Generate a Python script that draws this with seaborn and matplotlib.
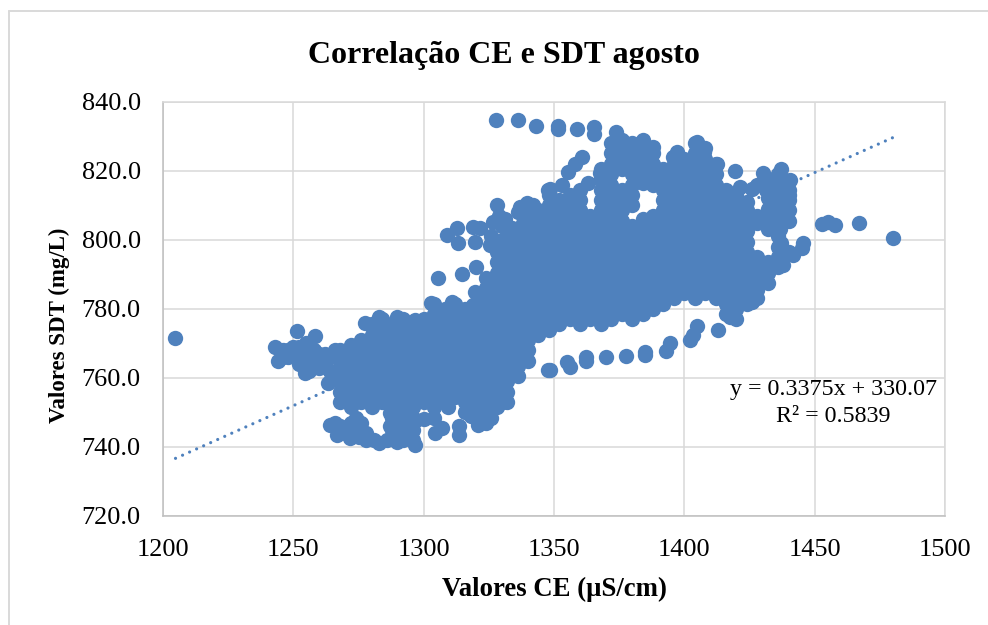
import matplotlib
matplotlib.use("Agg")
import matplotlib.pyplot as plt
from matplotlib.lines import Line2D
import pandas as pd
import seaborn as sns

# colunas da nuvem principal: cada CE tem a sua lista de SDT
colunas_ce = [1268, 1272, 1276, 1280, 1284, 1288, 1292, 1296, 1300, 1304, 1308, 1312,
              1316, 1320, 1324, 1328, 1332, 1336, 1340, 1344, 1348, 1352, 1356, 1360,
              1364, 1368, 1372, 1376, 1380, 1384, 1388, 1392, 1396, 1400, 1404, 1408,
              1412, 1416, 1420, 1424, 1428, 1432, 1436, 1440]
colunas_sdt = [
    [753, 756, 759, 762, 765, 768],
    [751.5, 754.5, 757.5, 760.5, 763.5, 766.5, 769.5],
    [753, 756, 759, 762, 765, 768, 771],
    [751.5, 754.5, 757.5, 760.5, 763.5, 766.5, 769.5, 772.5, 775.5],
    [753, 756, 759, 762, 765, 768, 771, 774, 777],
    [748.5, 751.5, 754.5, 757.5, 760.5, 763.5, 766.5, 769.5, 772.5, 775.5],
    [750, 753, 756, 759, 762, 765, 768, 771, 774, 777],
    [748.5, 751.5, 754.5, 757.5, 760.5, 763.5, 766.5, 769.5, 772.5, 775.5],
    [753, 756, 759, 762, 765, 768, 771, 774, 777],
    [751.5, 754.5, 757.5, 760.5, 763.5, 766.5, 769.5, 772.5, 775.5, 778.5, 781.5],
    [753, 756, 759, 762, 765, 768, 771, 774, 777, 780],
    [754.5, 757.5, 760.5, 763.5, 766.5, 769.5, 772.5, 775.5, 778.5, 781.5],
    [750, 753, 756, 759, 762, 765, 768, 771, 774, 777, 780],
    [748.5, 751.5, 754.5, 757.5, 760.5, 763.5, 766.5, 769.5, 772.5, 775.5, 778.5, 781.5],
    [747, 750, 753, 756, 759, 762, 765, 768, 771, 774, 777, 780, 783, 786, 789],
    [751.5, 754.5, 757.5, 760.5, 763.5, 766.5, 769.5, 772.5, 775.5, 778.5, 781.5, 784.5, 787.5, 790.5, 793.5, 796.5],
    [753, 756, 759, 762, 765, 768, 771, 774, 777, 780, 783, 786, 789, 792, 795, 798, 801],
    [760.5, 763.5, 766.5, 769.5, 772.5, 775.5, 778.5, 781.5, 784.5, 787.5, 790.5, 793.5, 796.5, 799.5, 802.5],
    [765, 768, 771, 774, 777, 780, 783, 786, 789, 792, 795, 798, 801, 804],
    [772.5, 775.5, 778.5, 781.5, 784.5, 787.5, 790.5, 793.5, 796.5, 799.5, 802.5, 805.5, 808.5],
    [774, 777, 780, 783, 786, 789, 792, 795, 798, 801, 804, 807, 810, 813],
    [775.5, 778.5, 781.5, 784.5, 787.5, 790.5, 793.5, 796.5, 799.5, 802.5, 805.5, 808.5, 811.5],
    [777, 780, 783, 786, 789, 792, 795, 798, 801, 804, 807, 810, 813],
    [775.5, 778.5, 781.5, 784.5, 787.5, 790.5, 793.5, 796.5, 799.5, 802.5, 805.5, 808.5, 811.5, 814.5],
    [777, 780, 783, 786, 789, 792, 795, 798, 801, 804, 807],
    [775.5, 778.5, 781.5, 784.5, 787.5, 790.5, 793.5, 796.5, 799.5, 802.5, 805.5, 808.5, 811.5, 814.5, 817.5, 820.5],
    [777, 780, 783, 786, 789, 792, 795, 798, 801, 804, 807, 810, 813, 816, 819, 822, 825, 828],
    [778.5, 781.5, 784.5, 787.5, 790.5, 793.5, 796.5, 799.5, 802.5, 805.5, 808.5, 811.5, 814.5, 820.5, 823.5, 826.5, 829],
    [777, 780, 783, 786, 789, 792, 795, 798, 801, 804, 810, 813, 816, 819, 822, 825, 828],
    [778.5, 781.5, 784.5, 787.5, 790.5, 793.5, 796.5, 799.5, 802.5, 817.5, 820.5, 823.5, 826.5, 829],
    [780, 783, 786, 789, 792, 795, 798, 801, 804, 819, 822, 825],
    [781.5, 784.5, 787.5, 790.5, 793.5, 796.5, 799.5, 802.5, 805.5, 808.5, 811.5, 814.5, 817.5, 820.5],
    [783, 786, 789, 792, 795, 798, 801, 804, 807, 810, 813, 816, 819, 822],
    [784.5, 787.5, 790.5, 793.5, 796.5, 799.5, 802.5, 805.5, 808.5, 811.5, 814.5, 817.5, 820.5, 823.5],
    [783, 786, 789, 792, 795, 798, 801, 804, 807, 810, 813, 816, 819, 822, 825, 828],
    [784.5, 787.5, 790.5, 793.5, 796.5, 799.5, 802.5, 805.5, 808.5, 811.5, 814.5, 817.5, 820.5, 823.5, 826.5],
    [783, 786, 789, 792, 795, 798, 801, 804, 807, 810, 813, 816, 819, 822],
    [778.5, 781.5, 784.5, 787.5, 790.5, 793.5, 796.5, 799.5, 802.5, 805.5, 808.5, 811.5, 814.5],
    [777, 780, 783, 786, 789, 792, 795, 798, 801, 804, 807, 810, 813],
    [781.5, 784.5, 787.5, 790.5, 793.5, 796.5, 799.5, 802.5, 805.5, 808.5, 811],
    [783, 786, 789, 792, 795, 805, 816],
    [787.5, 790.5, 793.5, 805.5, 814.5, 817.5],
    [792, 795, 798, 801, 804, 807, 810, 813, 816, 819],
    [796.5, 805.5, 808.5, 811.5, 814.5],
]

# pontos soltos em volta da nuvem
soltos_ce = [1204.5, 1243, 1244, 1246, 1248, 1250, 1251.3, 1252, 1254.5, 1255, 1256,
             1258.3, 1259, 1260, 1262, 1263.4, 1264, 1264, 1266.7, 1271.7, 1274, 1278,
             1281, 1283, 1287, 1289.6, 1289.6, 1293, 1296.7, 1297, 1304.3, 1307, 1304,
             1309.4, 1313.5, 1313.5, 1321, 1326, 1330.5, 1277.5, 1283, 1289.6, 1296.7,
             1303, 1310.7, 1319, 1305.5, 1314.6, 1319.7, 1308.8, 1312.6, 1313, 1319,
             1321.6, 1319.7, 1328, 1331.2, 1326.7, 1337, 1339.5, 1334, 1347.7, 1346.5,
             1342, 1325.4, 1320, 1325.6, 1327.7, 1336.2, 1343, 1351.4, 1351.4, 1358.7,
             1365.4, 1365.4, 1373.7, 1388, 1360.6, 1358, 1355.4, 1348.4, 1353, 1363,
             1367.6, 1397, 1395.6, 1404.7, 1407.5, 1412.4, 1419.5, 1430, 1437, 1440.5,
             1440, 1431.5, 1421.3, 1425.8, 1439, 1436.7, 1437, 1445.5, 1445, 1441.7,
             1438, 1431.5, 1427.7, 1426, 1417.5, 1413, 1348.4, 1354.8, 1356, 1362.3,
             1362.3, 1370, 1377.7, 1385, 1385, 1393, 1394.6, 1402, 1403.5, 1405, 1347.7,
             1453, 1455, 1457.8, 1467, 1480]
soltos_sdt = [771.6, 769, 765, 766, 768, 767, 773.7, 766, 761.4, 770, 762,
              772, 766, 764, 767, 758.5, 746.3, 762, 743.5, 742.6, 748.4, 742,
              742, 741, 749.7, 741.5, 747, 744, 740.5, 747.8, 744, 745.4, 748.4,
              751.7, 743.5, 746, 746.4, 748.4, 753, 775.8, 777.6, 777.7, 776.8,
              781.7, 782, 781, 789, 790, 785, 801.4, 803.4, 799, 803.7,
              803.4, 799.5, 810, 806, 805.2, 809.6, 810.6, 803.5, 814.4, 805.7,
              803, 798.5, 792, 786.4, 834.7, 834.7, 833, 833, 832, 832,
              832.8, 830.5, 831.3, 827, 824, 822, 819.7, 814.7, 816, 816.4,
              819.4, 825.5, 824, 828.4, 825.5, 822, 820, 819.4, 820.5, 817.3,
              813, 814.4, 815.4, 814.7, 805.7, 803, 799, 799, 797.5, 795.6,
              792.7, 788.4, 785.5, 782, 777.7, 774, 762.3, 764.7, 763.3, 766,
              765, 766, 766.3, 766.6, 767.5, 767.9, 770, 771, 772.5, 775, 762.2,
              804.6, 805.3, 804.3, 804.8, 800.5]

# pontos do fundo da nuvem, entre 1265 e 1330
fundo_ce = [1266, 1270, 1274, 1278, 1287, 1288, 1292, 1292, 1296, 1296, 1296, 1300, 1318, 1318, 1322, 1322, 1326,
            1268, 1272, 1276, 1286, 1292, 1275]
fundo_sdt = [747, 744, 744, 744, 746, 745, 745, 748, 742, 745, 748, 748, 749, 752, 747, 751, 751,
             746, 747, 747, 742, 742, 743]

# preenchimento do braco esquerdo
esquerda_ce = [1246, 1248, 1250, 1252, 1254, 1256, 1258, 1260, 1262, 1264, 1266, 1264, 1266, 1260, 1256, 1252]
esquerda_sdt = [768, 766, 769, 769, 767, 766, 768, 767, 764, 766, 768, 762, 760, 763, 764, 764]

# preenchimento da parte alta da nuvem
topo_ce = [1326, 1330, 1330, 1334, 1338, 1338, 1342, 1342, 1329, 1336, 1384, 1388, 1388, 1384, 1428, 1432, 1432, 1432]
topo_sdt = [801, 800, 804, 799, 805, 808, 807, 810, 807, 808, 806, 807, 816, 816.5, 807, 809, 812, 803]

tendencia_ce = [1204.8, 1480]
tendencia_sdt = [736.7, 829.6]

ticks_ce = [1200, 1250, 1300, 1350, 1400, 1450, 1500]
ticks_sdt = [720, 740, 760, 780, 800, 820, 840]

ce = list(soltos_ce) + fundo_ce + esquerda_ce + topo_ce
sdt = list(soltos_sdt) + fundo_sdt + esquerda_sdt + topo_sdt
for valor_ce, lista_sdt in zip(colunas_ce, colunas_sdt):
    ce += [valor_ce] * len(lista_sdt)
    sdt += lista_sdt
dados = pd.DataFrame({"CE": ce, "SDT": sdt})

azul = "#4F81BD"
cinza = "#D9D9D9"
W, H = 988, 625

sns.set_style("white")
plt.rcParams["font.family"] = ["Liberation Serif", "DejaVu Serif"]
plt.rcParams["text.color"] = "black"
plt.rcParams["axes.labelcolor"] = "black"

fig = plt.figure(figsize=(W / 100, H / 100), dpi=100)
ax = fig.add_axes([163 / W, (H - 516) / H, 782 / W, 414.3 / H])

sns.scatterplot(data=dados, x="CE", y="SDT", color=azul, s=122, linewidth=0, ax=ax, zorder=3)
sns.lineplot(x=tendencia_ce, y=tendencia_sdt, color=azul, linewidth=2.3, linestyle=(0, (0.01, 2.4)),
             dash_capstyle="round", ax=ax, zorder=3)

ax.set_xlim(1200, 1500)
ax.set_ylim(720, 840)
ax.set_xticks(ticks_ce)
ax.set_yticks(ticks_sdt)
ax.set_yticklabels([f"{v:.1f}" for v in ticks_sdt])
ax.tick_params(axis="both", length=0, labelsize=18.9, labelcolor="black")
ax.tick_params(axis="x", pad=16.5)
ax.tick_params(axis="y", pad=16)
ax.grid(True, color=cinza, linewidth=1.1)
ax.set_axisbelow(True)
for lado in ax.spines:
    ax.spines[lado].set_color(cinza)
    ax.spines[lado].set_linewidth(1.1)
ax.spines["left"].set_color("#BFBFBF")
ax.spines["bottom"].set_color("#BFBFBF")

ax.set_title("Correlação CE e SDT agosto", fontsize=23, fontweight="bold", x=0.436, y=1.091, va="center")
ax.set_xlabel("Valores CE (µS/cm)", fontsize=19.3, fontweight="bold")
ax.xaxis.set_label_coords(0.5, -0.148)
ax.set_ylabel("Valores SDT (mg/L)", fontsize=16.5, fontweight="bold")
ax.yaxis.set_label_coords(-0.119, 0.46)

ax.text(833.5 / W, (H - 389) / H, "y = 0.3375x + 330.07", transform=fig.transFigure, fontsize=17.25,
        ha="center", va="center", zorder=5)
ax.text(833.5 / W, (H - 417) / H, "R² = 0.5839", transform=fig.transFigure, fontsize=17.25,
        ha="center", va="center", zorder=5)

# moldura externa do grafico
fig.add_artist(Line2D([8.5 / W, 8.5 / W], [0, (H - 11) / H], color=cinza, linewidth=1.4))
fig.add_artist(Line2D([8.5 / W, 1], [(H - 11) / H, (H - 11) / H], color=cinza, linewidth=1.4))

fig.savefig("out.png", dpi=100)
